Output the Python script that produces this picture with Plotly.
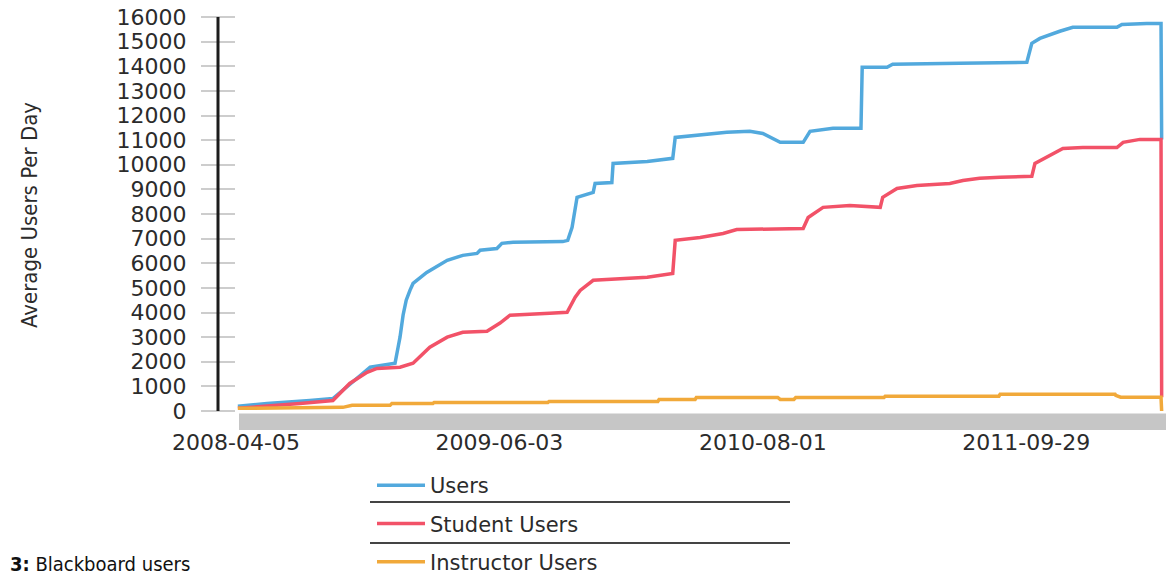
import pandas as pd
import plotly.graph_objects as go

# ---------------- data ----------------
START = "2008-04-05"
x_tick_labels = ["2008-04-05", "2009-06-03", "2010-08-01", "2011-09-29"]
y_tick_values = list(range(0, 16001, 1000))

series_names = ["Users", "Student Users", "Instructor Users"]

# day offsets from START and average users per day
users_days = [3, 50, 119, 156, 216, 256, 261, 264, 269, 274, 280, 285, 307, 340, 365, 388, 393,
              420, 428, 446, 526, 534, 541, 546, 549, 575, 578, 605, 607, 662, 703, 707, 747,
              790, 827, 848, 876, 913, 924, 961, 1006, 1008, 1048, 1057, 1165, 1273, 1281,
              1294, 1326, 1347, 1418, 1426, 1466, 1489, 1490]
users_values = [190, 310, 430, 510, 1780, 1940, 2600, 3000, 3900, 4500, 4900, 5180, 5630, 6120,
                6320, 6400, 6530, 6600, 6810, 6850, 6880, 6930, 7460, 8270, 8680, 8880, 9240,
                9280, 10050, 10130, 10260, 11110, 11200, 11320, 11360, 11270, 10910, 10910,
                11360, 11480, 11480, 13960, 13960, 14080, 14120, 14160, 14930, 15130, 15420,
                15580, 15580, 15700, 15740, 15740, 11030]

student_days = [3, 50, 103, 156, 183, 211, 227, 264, 285, 312, 340, 365, 404, 425, 441, 505, 533,
                546, 554, 575, 662, 703, 707, 747, 784, 806, 913, 921, 945, 988, 1037, 1041,
                1064, 1096, 1149, 1170, 1197, 1230, 1281, 1286, 1305, 1331, 1363, 1418, 1428,
                1455, 1489, 1490]
student_values = [110, 190, 310, 430, 1120, 1570, 1730, 1780, 1940, 2590, 3000, 3200, 3240, 3570,
                  3890, 3970, 4010, 4620, 4900, 5310, 5430, 5590, 6930, 7050, 7210, 7370, 7410,
                  7860, 8270, 8350, 8270, 8680, 9040, 9160, 9240, 9360, 9450, 9490, 9530, 10050,
                  10300, 10660, 10700, 10700, 10910, 11030, 11030, 560]

instructor_days = [3, 103, 172, 187, 248, 251, 317, 319, 502, 504, 679, 681, 739, 741, 872, 876,
                   898, 901, 1043, 1045, 1228, 1230, 1415, 1416, 1424, 1489, 1490]
instructor_values = [110, 150, 150, 230, 230, 310, 310, 350, 350, 390, 390, 470, 470, 550, 550,
                     470, 470, 550, 550, 600, 600, 680, 680, 640, 560, 560, 0]

series_days = [users_days, student_days, instructor_days]
series_values = [users_values, student_values, instructor_values]
series_colors = ["#52a9dd", "#f25268", "#f1a93a"]

# ---------------- layout geometry ----------------
W, H = 1172, 579
L, R, T, B = 236, 6, 17, 166
PW, PH = W - L - R, H - T - B
Y_RANGE = [-80, 16000]
X_END = "2012-05-11"


def px_x(px):
    """screen x (pixels) -> paper fraction"""
    return (px - L) / PW


def px_y(py):
    """screen y (pixels) -> paper fraction"""
    return (T + PH - py) / PH


def to_dates(days):
    return pd.Timestamp(START) + pd.to_timedelta(days, unit="D")


TICK_FONT = dict(family="DejaVu Sans, Verdana, sans-serif", size=22, color="#2b2b2b")
COND_FONT = "DejaVu Sans Condensed, Liberation Sans Narrow, Roboto Condensed, Roboto, sans-serif"

fig = go.Figure()
for name, days, vals, col in zip(series_names, series_days, series_values, series_colors):
    fig.add_trace(go.Scatter(
        x=to_dates(days), y=vals, name=name, mode="lines",
        line=dict(color=col, width=3.5), legendgroup=name,
    ))

shapes = [
    # dark vertical axis line
    dict(type="line", xref="paper", yref="paper",
         x0=px_x(218), x1=px_x(218),
         y0=(0 - Y_RANGE[0]) / (Y_RANGE[1] - Y_RANGE[0]), y1=1,
         line=dict(color="#1c1c1c", width=3)),
    # grey band under the plot
    dict(type="rect", xref="paper", yref="paper",
         x0=px_x(239), x1=px_x(1166), y0=px_y(430), y1=px_y(413.5),
         fillcolor="#c6c6c6", line=dict(width=0), layer="below"),
    # legend separators
    dict(type="line", xref="paper", yref="paper",
         x0=px_x(370), x1=px_x(790), y0=px_y(502), y1=px_y(502),
         line=dict(color="#444444", width=2)),
    dict(type="line", xref="paper", yref="paper",
         x0=px_x(370), x1=px_x(790), y0=px_y(543), y1=px_y(543),
         line=dict(color="#444444", width=2)),
]

fig.update_layout(
    width=W, height=H,
    margin=dict(l=L, r=R, t=T, b=B, autoexpand=False),
    paper_bgcolor="white", plot_bgcolor="white",
    showlegend=True,
    legend=dict(
        x=px_x(372), y=px_y(465), xanchor="left", yanchor="top",
        font=dict(family="DejaVu Sans, Verdana, sans-serif", size=21, color="#2b2b2b"),
        tracegroupgap=8, bgcolor="rgba(0,0,0,0)", itemwidth=48,
    ),
    shapes=shapes,
    annotations=[
        dict(text="<b>3:</b> Blackboard users", xref="paper", yref="paper",
             x=px_x(8), y=px_y(578), xanchor="left", yanchor="bottom", showarrow=False,
             font=dict(family=COND_FONT, size=20, color="#111111")),
    ],
)

fig.update_xaxes(
    range=[START, X_END], showgrid=False, zeroline=False, showline=False, automargin=False,
    tickmode="array", tickvals=x_tick_labels, ticktext=x_tick_labels,
    ticks="", ticklabelstandoff=14, tickfont=TICK_FONT,
)
fig.update_yaxes(
    range=Y_RANGE, showgrid=False, zeroline=False, showline=False, automargin=False,
    tickmode="array", tickvals=y_tick_values, ticktext=[str(v) for v in y_tick_values],
    ticks="outside", ticklen=34, tickwidth=2, tickcolor="#cdcdcd",
    ticklabelstandoff=10, tickfont=TICK_FONT, ticklabeloverflow="allow",
    title=dict(text="Average Users Per Day", standoff=72,
               font=dict(family=COND_FONT, size=22, color="#2b2b2b")),
)

# remove the default page margin so the figure fills the window exactly
fig.write_html("out.html", config={"displayModeBar": False},
               post_script="document.body.style.margin='0';")
